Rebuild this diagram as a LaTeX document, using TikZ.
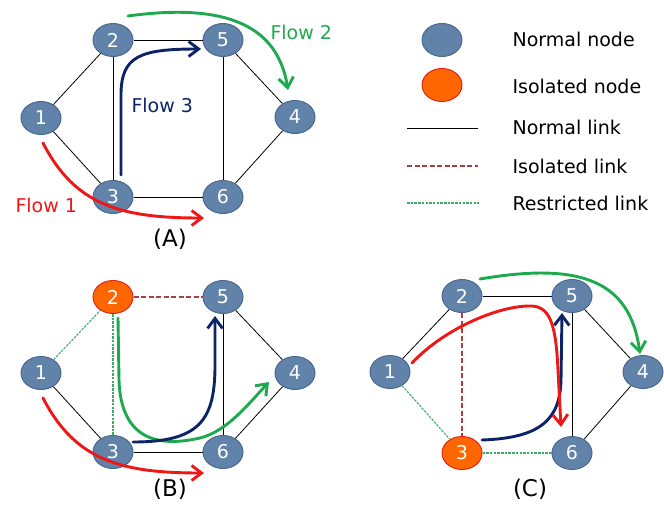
\documentclass[tikz,border=0pt]{standalone}
\usepackage{fontspec}
\setmainfont{DejaVu Sans}
\usetikzlibrary{shapes.geometric,arrows.meta}

\definecolor{nodeblue}{HTML}{6183A9}
\definecolor{nodeedge}{HTML}{4B6990}
\definecolor{isofill}{HTML}{FF6600}
\definecolor{isoedge}{HTML}{E3261C}
\definecolor{flowred}{HTML}{F01616}
\definecolor{flowgreen}{HTML}{1DAA4E}
\definecolor{flownavy}{HTML}{0C2466}
\definecolor{isolinkc}{HTML}{A8403F}
\definecolor{reslinkc}{HTML}{3DAA6A}

\tikzset{
  txt/.style={font=\fontsize{19}{22}\selectfont},
  netnode/.style={ellipse, draw=nodeedge, line width=1pt, fill=nodeblue,
    minimum width=40pt, minimum height=33pt, inner sep=0pt, text=white, txt},
  isonode/.style={netnode, draw=isoedge, fill=isofill},
  normlink/.style={draw=black, line width=0.8pt},
  isolink/.style={draw=isolinkc, line width=1.2pt, dash pattern=on 5pt off 2.5pt},
  reslink/.style={draw=reslinkc, line width=1.1pt, dash pattern=on 2.5pt off 1.2pt},
  flow/.style={line width=2.9pt, line cap=round,
    -{Straight Barb[length=10pt,width=15pt]}},
  panel/.style={font=\fontsize{23}{26}\selectfont, anchor=base},
}

\begin{document}
\begin{tikzpicture}[x=1pt,y=-1pt]
\useasboundingbox (0,0) rectangle (664,511);

% ---------- network (A) ----------
\node[netnode] (A1) at (41,118) {1};
\node[netnode] (A2) at (113,40) {2};
\node[netnode] (A5) at (223,40) {5};
\node[netnode] (A4) at (295,117) {4};
\node[netnode] (A3) at (113,197) {3};
\node[netnode] (A6) at (223,197) {6};
\draw[normlink] (A1) -- (A2);
\draw[normlink] (A1) -- (A3);
\draw[normlink] (A2) -- (A5);
\draw[normlink] (A2) -- (A3);
\draw[normlink] (A5) -- (A4);
\draw[normlink] (A5) -- (A6);
\draw[normlink] (A4) -- (A6);
\draw[normlink] (A3) -- (A6);

\coordinate (a1s) at (43,143);  \coordinate (a1e) at (204,218);
\coordinate (a2s) at (128,16);  \coordinate (a2e) at (288,90);
\coordinate (a3s) at (121,175); \coordinate (a3e) at (201,49);
\draw[flow, flowred] (a1s) .. controls (75,205) and (120,218) .. (a1e);
\draw[flow, flowgreen] (a2s) .. controls (230,2) and (278,28) .. (a2e);
\draw[flow, flownavy] (a3s) -- (121,95) .. controls (121,56) and (140,49) .. (a3e);

\node[txt, text=flowred, anchor=base west] (fl1) at (12,212) {Flow 1};
\node[txt, text=flowgreen, anchor=base west] (fl2) at (267,40) {Flow 2};
\node[txt, text=flownavy, anchor=base west] (fl3) at (128,112) {Flow 3};
\node[panel] (capA) at (170,246) {(A)};

% ---------- network (B) ----------
\node[netnode] (B1) at (41,373) {1};
\node[isonode] (B2) at (113,297) {2};
\node[netnode] (B5) at (223,297) {5};
\node[netnode] (B4) at (295,373) {4};
\node[netnode] (B3) at (113,452) {3};
\node[netnode] (B6) at (223,452) {6};
\draw[reslink] (B1) -- (B2);
\draw[normlink] (B1) -- (B3);
\draw[isolink] (B2) -- (B5);
\draw[reslink] (B2) -- (B3);
\draw[normlink] (B5) -- (B4);
\draw[normlink] (B5) -- (B6);
\draw[normlink] (B4) -- (B6);
\draw[normlink] (B3) -- (B6);

\coordinate (b1s) at (43,398);  \coordinate (b1e) at (204,473);
\coordinate (b2s) at (118,318); \coordinate (b2e) at (269,382);
\coordinate (b3s) at (133,442); \coordinate (b3e) at (215,316);
\draw[flow, flowred] (b1s) .. controls (75,460) and (120,473) .. (b1e);
\draw[flow, flowgreen] (b2s) -- (119,380) .. controls (121,445) and (165,446) .. (200,438)
  .. controls (228,431) and (250,402) .. (b2e);
\draw[flow, flownavy] (b3s) .. controls (200,442) and (215,420) .. (215,365) -- (b3e);

\node[panel] (capB) at (170,496) {(B)};

% ---------- network (C) ----------
\node[netnode] (C1) at (390,372) {1};
\node[netnode] (C2) at (462,296) {2};
\node[netnode] (C5) at (572,296) {5};
\node[netnode] (C4) at (643,372) {4};
\node[isonode] (C3) at (462,453) {3};
\node[netnode] (C6) at (572,453) {6};
\draw[normlink] (C1) -- (C2);
\draw[reslink] (C1) -- (C3);
\draw[normlink] (C2) -- (C5);
\draw[isolink] (C2) -- (C3);
\draw[normlink] (C5) -- (C4);
\draw[normlink] (C5) -- (C6);
\draw[normlink] (C4) -- (C6);
\draw[reslink] (C3) -- (C6);

\coordinate (c1s) at (412,363); \coordinate (c1e) at (561,427);
\coordinate (c2s) at (480,279); \coordinate (c2e) at (640,354);
\coordinate (c3s) at (482,440); \coordinate (c3e) at (562,313);
\draw[flow, flowgreen] (c2s) .. controls (580,262) and (630,280) .. (c2e);
\draw[flow, flownavy] (c3s) .. controls (540,438) and (560,420) .. (561,380) -- (c3e);
\draw[flow, flowred] (c1s) .. controls (445,328) and (500,305) .. (532,306)
  .. controls (552,307) and (556,330) .. (558,370) -- (c1e);

\node[panel] (capC) at (530,496) {(C)};

% ---------- legend ----------
\node[netnode] (Lnorm) at (442,40) {};
\node[isonode] (Liso) at (442,85) {};
\coordinate (L1a) at (407,128); \coordinate (L1b) at (478,128);
\coordinate (L2a) at (407,166); \coordinate (L2b) at (478,166);
\coordinate (L3a) at (407,203); \coordinate (L3b) at (479,203);
\draw[normlink] (L1a) -- (L1b);
\draw[isolink] (L2a) -- (L2b);
\draw[reslink] (L3a) -- (L3b);
\node[txt, anchor=base west] (T1) at (509,47) {Normal node};
\node[txt, anchor=base west] (T2) at (509,93) {Isolated node};
\node[txt, anchor=base west] (T3) at (509,134) {Normal link};
\node[txt, anchor=base west] (T4) at (509,173) {Isolated link};
\node[txt, anchor=base west] (T5) at (509,210) {Restricted link};
\end{tikzpicture}
\end{document}
